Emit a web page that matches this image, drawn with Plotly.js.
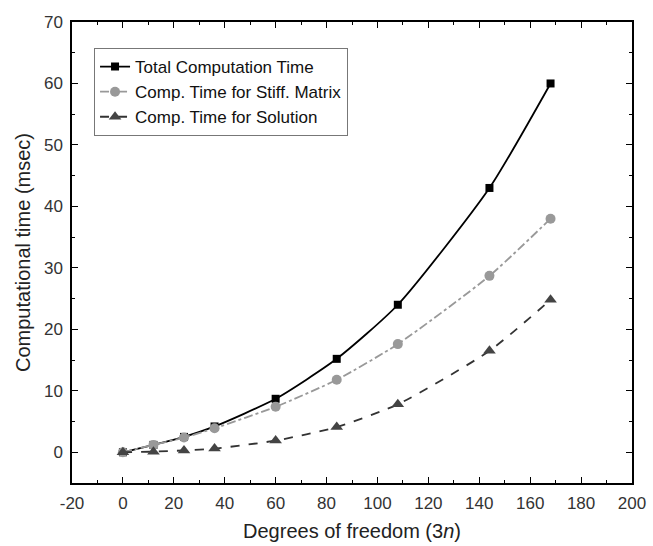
<!DOCTYPE html>
<html><head><meta charset="utf-8">
<script src="https://cdn.plot.ly/plotly-3.0.1.min.js"></script>
<style>body{margin:0;background:#fff}</style>
</head><body>
<div id="chart" style="width:653px;height:546px"></div>
<script>
const dof = [0, 12, 24, 36, 60, 84, 108, 144, 168];
const totalTime = [0, 1.2, 2.5, 4.2, 8.7, 15.2, 24, 43, 60];
const stiffTime = [0, 1.2, 2.4, 3.9, 7.4, 11.8, 17.6, 28.7, 38];
const solutionTime = [0, 0.1, 0.3, 0.6, 1.9, 4.1, 7.8, 16.5, 24.8];
const seriesNames = ["Total Computation Time", "Comp. Time for Stiff. Matrix", "Comp. Time for Solution"];
const xTickVals = [-20, 0, 20, 40, 60, 80, 100, 120, 140, 160, 180, 200];
const xTickText = ["-20", "0", "20", "40", "60", "80", "100", "120", "140", "160", "180", "200"];
const yTickVals = [0, 10, 20, 30, 40, 50, 60, 70];
const yTickText = ["0", "10", "20", "30", "40", "50", "60", "70"];

const font = 'Liberation Sans, Arial, sans-serif';

const traces = [
  {x: dof, y: totalTime, name: seriesNames[0], mode: 'lines+markers',
   line: {color: '#000', width: 1.8, shape: 'spline', smoothing: 0.6},
   marker: {symbol: 'square', size: 8, color: '#000'}},
  {x: dof, y: stiffTime, name: seriesNames[1], mode: 'lines+markers',
   line: {color: '#999', width: 1.8, dash: 'dashdot', shape: 'spline', smoothing: 0.6},
   marker: {symbol: 'circle', size: 10, color: '#999'}},
  {x: dof, y: solutionTime, name: seriesNames[2], mode: 'lines+markers',
   line: {color: '#333', width: 1.8, dash: 'dash', shape: 'spline', smoothing: 0.6},
   marker: {symbol: 'triangle-up', size: 11, color: '#444'}}
];

const axisCommon = {
  showline: true, linecolor: '#000', linewidth: 1.5, mirror: 'ticks',
  ticks: 'inside', ticklen: 6, tickwidth: 1.2, tickcolor: '#000',
  showgrid: false, zeroline: false, tickmode: 'array',
  tickfont: {family: font, size: 17, color: '#333'}
};

const layout = {
  width: 653, height: 546,
  margin: {l: 72, r: 21, t: 22, b: 63},
  paper_bgcolor: '#fff', plot_bgcolor: '#fff',
  showlegend: true,
  legend: {x: 0.039, y: 0.944, xanchor: 'left', yanchor: 'top',
    bordercolor: '#777', borderwidth: 1.2, bgcolor: '#fff',
    font: {family: font, size: 17, color: '#111'},
    tracegroupgap: 0},
  xaxis: Object.assign({}, axisCommon, {
    range: [-20, 200], tickvals: xTickVals, ticktext: xTickText, ticklabelstandoff: 4,
    minor: {ticks: 'inside', ticklen: 3, tickvals: [-10, 10, 30, 50, 70, 90, 110, 130, 150, 170, 190], tickcolor: '#000'},
    title: {text: 'Degrees of freedom (3<i>n</i>)', standoff: 12,
      font: {family: font, size: 20, color: '#222'}}
  }),
  yaxis: Object.assign({}, axisCommon, {
    range: [-5, 70], tickvals: yTickVals, ticktext: yTickText, ticklabelstandoff: 4,
    minor: {ticks: 'inside', ticklen: 3, tickvals: [5, 15, 25, 35, 45, 55, 65], tickcolor: '#000'},
    title: {text: 'Computational time (msec)', standoff: 8,
      font: {family: font, size: 20, color: '#222'}}
  })
};

Plotly.newPlot('chart', traces, layout, {displayModeBar: false});
</script>
</body></html>
